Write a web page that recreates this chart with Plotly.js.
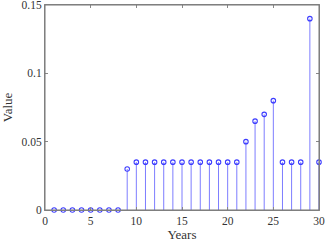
<!DOCTYPE html>
<html><head><meta charset="utf-8">
<script src="https://cdn.plot.ly/plotly-3.0.1.min.js"></script>
<style>html,body{margin:0;padding:0;background:#fff}</style>
</head><body>
<div id="chart" style="width:327px;height:242px"></div>
<script>
const years = [1,2,3,4,5,6,7,8,9,10,11,12,13,14,15,16,17,18,19,20,21,22,23,24,25,26,27,28,29,30];
const values = [0,0,0,0,0,0,0,0,0.03,0.035,0.035,0.035,0.035,0.035,0.035,0.035,0.035,0.035,0.035,0.035,0.035,0.05,0.065,0.07,0.08,0.035,0.035,0.035,0.14,0.035];
const xTickVals = [0,5,10,15,20,25,30];
const yTickVals = [0,0.05,0.1,0.15];
const yTickText = ['0','0.05','0.1','0.15'];

const trace = {
  x: years, y: values, type: 'scatter', mode: 'markers',
  marker: {symbol: 'circle-open', size: 4.5, color: 'rgb(60,60,255)', line: {width: 1.1, color: 'rgb(60,60,255)'}},
  error_y: {type: 'data', symmetric: false, array: values.map(() => 0), arrayminus: values, width: 0, thickness: 1, color: 'rgb(125,125,255)'},
  cliponaxis: false, hoverinfo: 'none'
};
const fam = '"Liberation Serif", "Times New Roman", serif';
const tickFont = {family: fam, size: 11.5, color: '#333'};
const titleFont = {family: fam, size: 13, color: '#333'};
const layout = {
  width: 327, height: 242,
  margin: {l: 45, r: 8, t: 5, b: 32},
  paper_bgcolor: '#fff', plot_bgcolor: '#fff',
  showlegend: false,
  font: tickFont,
  shapes: [{type: 'rect', xref: 'paper', yref: 'paper', x0: 0, x1: 1, y0: 0, y1: 1, layer: 'above', line: {color: '#777', width: 1}}],
  xaxis: {range: [0, 30], tickvals: xTickVals, ticks: 'inside', ticklen: 3, tickcolor: '#888',
    showline: true, linecolor: '#888', linewidth: 1, mirror: 'allticks', showgrid: false, zeroline: false,
    ticklabeloverflow: 'allow', tickfont: tickFont, title: {text: 'Years', font: titleFont, standoff: 2}},
  yaxis: {range: [0, 0.15], tickvals: yTickVals, ticktext: yTickText, ticks: 'inside', ticklen: 3, tickcolor: '#888',
    showline: true, linecolor: '#888', linewidth: 1, mirror: 'allticks', showgrid: false, zeroline: false,
    ticklabeloverflow: 'allow', tickfont: tickFont, title: {text: 'Value', font: titleFont, standoff: 6}}
};
Plotly.newPlot('chart', [trace], layout, {displayModeBar: false, staticPlot: true});
</script>
</body></html>
